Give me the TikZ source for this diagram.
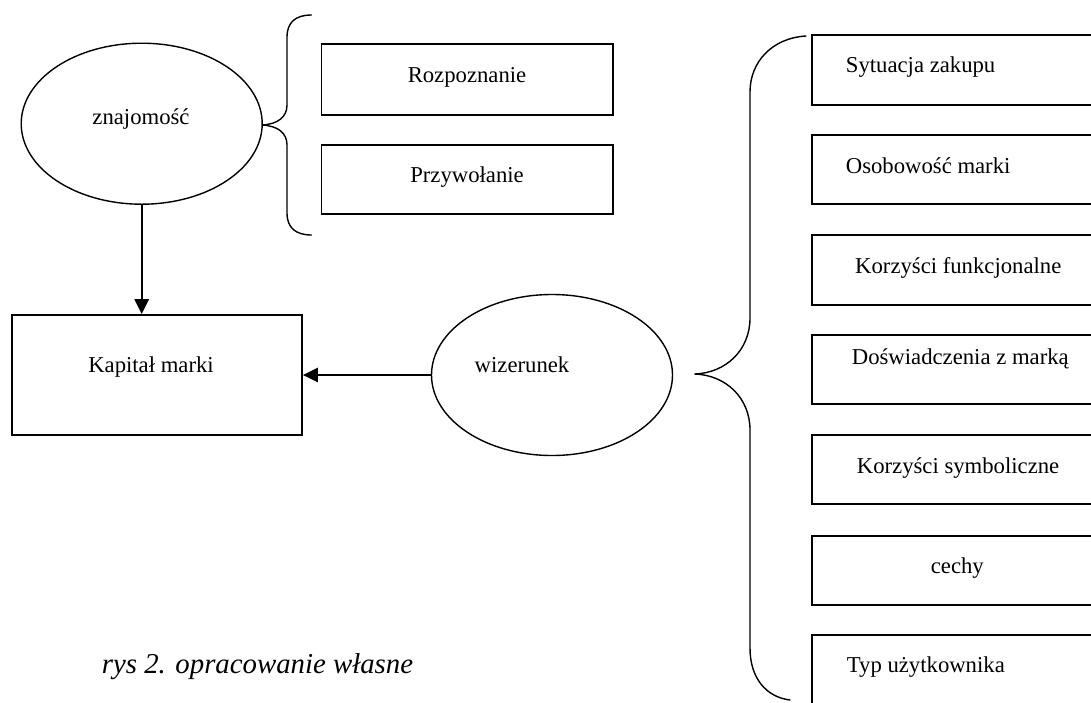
\documentclass[tikz,border=0pt]{standalone}
\usepackage{fontspec}
\setmainfont{Liberation Serif}
\usetikzlibrary{shapes.geometric,arrows.meta}
\begin{document}
\begin{tikzpicture}[x=1pt,y=-1pt,
  txt/.style={inner sep=0pt,font=\fontsize{22.7}{26}\selectfont},
  capt/.style={inner sep=0pt,font=\fontsize{28.8}{33}\selectfont\itshape},
  oval/.style={draw,line width=1.4pt,ellipse,minimum width=241pt,minimum height=161pt,inner sep=0pt},
  rbox/.style={draw,line width=1.6pt,rectangle,minimum width=290pt,inner sep=0pt},
  arr/.style={line width=2.4pt,-{Triangle[length=15pt,width=14pt]}},
  brace/.style={line width=1.4pt,line cap=round}]
\useasboundingbox (0,0) rectangle (1091,702);
\clip (0,0) rectangle (1091,702);
\fill[white] (0,0) rectangle (1091,702);

% ellipses
\node[oval] (zn) at (141.7,123.7) {};
\node[oval] (wiz) at (552,375) {};
\node[txt,anchor=base] (znt) at (141,124) {znajomość};
\node[txt,anchor=base] (wizt) at (522,372.7) {wizerunek};

% left boxes
\node[rbox,minimum width=291.4pt,minimum height=71pt] (rozp) at (467,79.5) {};
\node[rbox,minimum width=291.4pt,minimum height=69pt] (przyw) at (467,179.5) {};
\node[txt,anchor=base] (rozpt) at (467,82.7) {Rozpoznanie};
\node[txt,anchor=base] (przywt) at (467,182.7) {Przywołanie};

\node[rbox,minimum width=290.3pt,minimum height=120pt] (kap) at (156.9,375) {};
\node[txt,anchor=base] (kapt) at (151,372.7) {Kapitał marki};

% right boxes
\node[rbox,minimum height=70pt] (b1) at (957,70) {};
\node[rbox,minimum height=69pt] (b2) at (957,169.5) {};
\node[rbox,minimum height=70pt] (b3) at (957,270) {};
\node[rbox,minimum height=69pt] (b4) at (957,369.5) {};
\node[rbox,minimum height=69pt] (b5) at (957,469.5) {};
\node[rbox,minimum height=69pt] (b6) at (957,570.5) {};
\node[rbox,minimum height=70pt] (b7) at (957,670) {};

\node[txt,anchor=base west] (t1) at (845.7,72) {Sytuacja zakupu};
\node[txt,anchor=base west] (t2) at (845.7,173.3) {Osobowość marki};
\node[txt,anchor=base west] (t3) at (855,273.3) {Korzyści funkcjonalne};
\node[txt,anchor=base west] (t4) at (851.7,364) {Doświadczenia z marką};
\node[txt,anchor=base west] (t5) at (856.7,473.3) {Korzyści symboliczne};
\node[txt,anchor=base] (t6) at (957.3,573.3) {cechy};
\node[txt,anchor=base west] (t7) at (846.7,672.3) {Typ użytkownika};

% caption
\node[capt,anchor=base west] (cap) at (101.7,673) {rys 2. opracowanie własne};

% arrows
\draw[arr] (zn.south) -- (zn.south |- kap.north);
\draw[arr] (wiz.west) -- (kap.east);

% left brace
\draw[brace] (311.5,15) .. controls (296,15) and (287,22) .. (287,37)
  -- (287,105) .. controls (287,117) and (278,124) .. (262.4,125)
  .. controls (278,126) and (287,133) .. (287,145)
  -- (287,213) .. controls (287,228) and (296,235) .. (311.5,235);

% right brace
\draw[brace] (806,36) .. controls (772,38) and (750,62) .. (750,92)
  -- (750,318) .. controls (750,350) and (726,373) .. (694.5,374)
  .. controls (726,375) and (750,398) .. (750,430)
  -- (750,648) .. controls (750,678) and (766,697) .. (790,700);
\end{tikzpicture}
\end{document}
